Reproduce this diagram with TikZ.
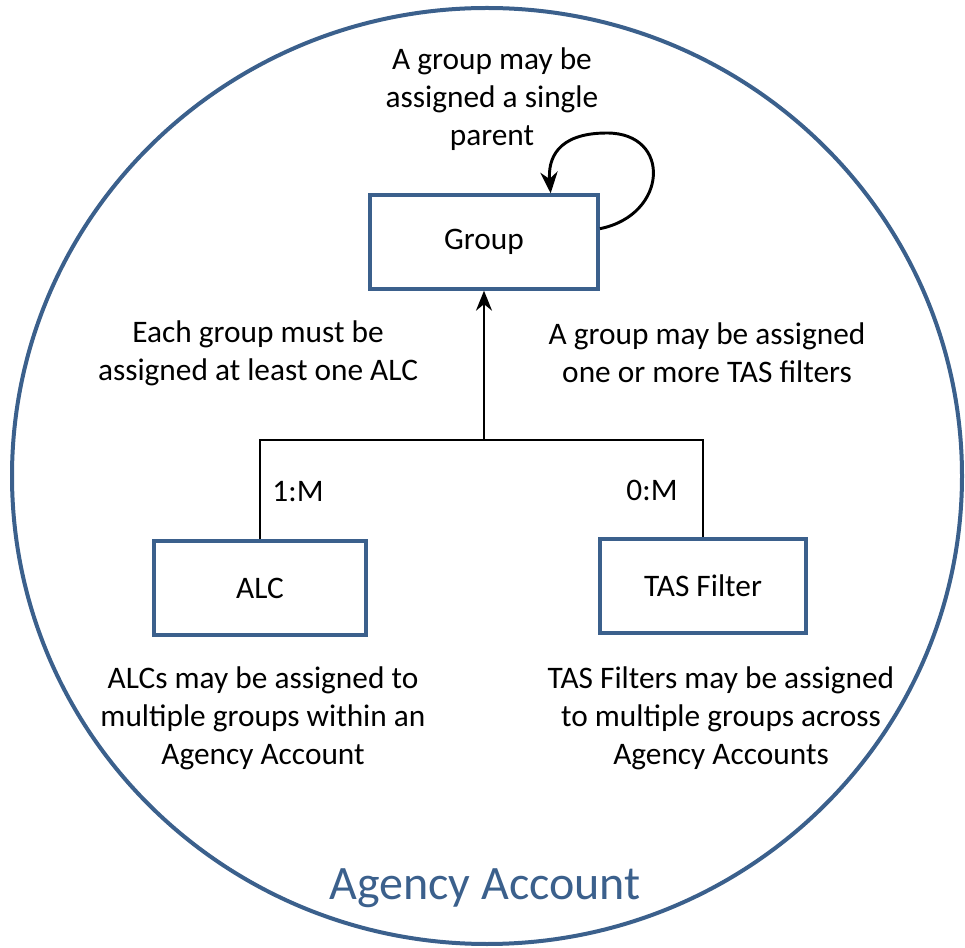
\documentclass[tikz,border=0pt]{standalone}
\usepackage{fontspec}
\setmainfont{Carlito}
\usetikzlibrary{arrows.meta,positioning}
\definecolor{rand}{RGB}{59,96,140}
\tikzset{
	kasten/.style={draw=rand, line width=3pt, minimum height=70pt, font=\fontsize{23.5}{28.5}\selectfont},
	notiz/.style={align=center, font=\fontsize{23.5}{28.5}\selectfont},
	linie/.style={line width=1.7pt}
}
\begin{document}
\begin{tikzpicture}[x=0.75pt, y=-0.75pt]
	\useasboundingbox (0,0) rectangle (965,948);

	%Kreis
	\draw [rand, line width=3pt] (487,476) ellipse (475 and 468);
	\node [rand, font=\fontsize{36}{43}\selectfont] (konto) at (485,888) {Agency Account};

	%Kaesten
	\node [kasten, minimum width=171pt] (group) at (484,242) {Group};
	\node [kasten, minimum width=159pt] (alc) at (260,588) {ALC};
	\node [kasten, minimum width=154pt] (tas) at (703,586) {TAS Filter};

	%Verbindungen
	\coordinate (knoten) at (484,440);
	\draw [linie] (alc.north) |- (knoten) -| (tas.north);
	\draw [linie, -{Stealth[length=15pt, width=12pt]}] (knoten) -- (group.south);
	\draw [line width=2.2pt, -{Stealth[length=16pt, width=13pt]}]
		([yshift=10pt]group.east) .. controls (668,215) and (672,133) .. (607,133)
		.. controls (556,133) and (548,160) .. ([xshift=50pt]group.north);
	\node [notiz] (m1) at (298,492) {1:M};
	\node [notiz] (m0) at (652,490) {0:M};

	%Texte
	\node [notiz] (loopnote) at (492,99) {A group may be\\assigned a single\\parent};
	\node [notiz] (alcnote) at (258,353) {Each group must be\\assigned at least one ALC};
	\node [notiz] (tasnote) at (707,353) {A group may be assigned\\one or more TAS filters};
	\node [notiz] (alcunter) at (263,718) {ALCs may be assigned to\\multiple groups within an\\Agency Account};
	\node [notiz] (tasunter) at (721,718) {TAS Filters may be assigned\\to multiple groups across\\Agency Accounts};

\end{tikzpicture}
\end{document}
